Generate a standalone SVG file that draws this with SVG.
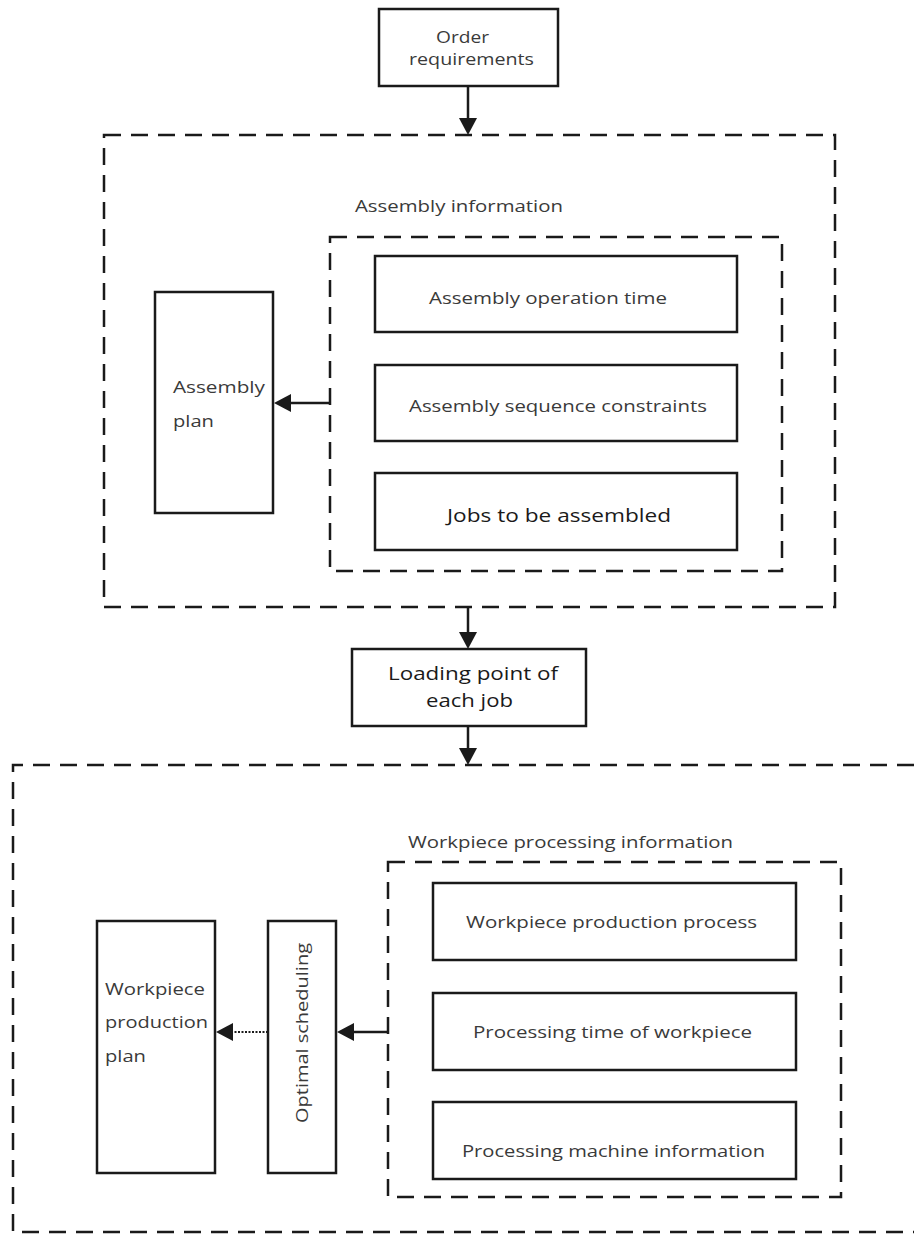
<svg xmlns="http://www.w3.org/2000/svg" width="914" height="1234" viewBox="0 0 914 1234">
<style>
.box{fill:#fff;stroke:#1a1a1a;stroke-width:2.5}
.dash{fill:none;stroke:#1a1a1a;stroke-width:2.5;stroke-dasharray:17 10}
.t{font-family:"Open Sans","Noto Sans",sans-serif;font-size:16.5px;fill:#3a3a3a}
.tb{font-family:"Open Sans","Noto Sans",sans-serif;font-size:19px;fill:#1a1a1a}
.ln{fill:none;stroke:#1a1a1a;stroke-width:2.5}
.ah{fill:#1a1a1a}
</style>
<rect width="914" height="1234" fill="#fff"/>
<g id="assembly-group">
<rect class="dash" x="104" y="135" width="731" height="472"/>
<text class="t" x="355" y="212" textLength="208" lengthAdjust="spacingAndGlyphs">Assembly information</text>
</g>
<g id="assembly-info">
<rect class="dash" x="330" y="237" width="452" height="334"/>
</g>
<g id="workpiece-group">
<path class="dash" d="M914 765 H13 V1232 H914"/>
</g>
<g id="workpiece-info">
<rect class="dash" x="388" y="862" width="453" height="335"/>
<text class="t" x="408" y="848" textLength="325" lengthAdjust="spacingAndGlyphs">Workpiece processing information</text>
</g>
<g id="order">
<rect class="box" x="379" y="9" width="179" height="77"/>
<text class="t" x="436" y="43" textLength="53" lengthAdjust="spacingAndGlyphs">Order</text>
<text class="t" x="409" y="65" textLength="125" lengthAdjust="spacingAndGlyphs">requirements</text>
</g>
<g id="op-time">
<rect class="box" x="375" y="256" width="362" height="76"/>
<text class="t" x="429" y="304" textLength="238" lengthAdjust="spacingAndGlyphs">Assembly operation time</text>
</g>
<g id="seq">
<rect class="box" x="375" y="365" width="362" height="76"/>
<text class="t" x="409" y="412" textLength="298" lengthAdjust="spacingAndGlyphs">Assembly sequence constraints</text>
</g>
<g id="jobs">
<rect class="box" x="375" y="473" width="362" height="77"/>
<text class="tb" x="447" y="522" textLength="224" lengthAdjust="spacingAndGlyphs">Jobs to be assembled</text>
</g>
<g id="assembly-plan">
<rect class="box" x="155" y="292" width="118" height="221"/>
<text class="t" x="173" y="393" textLength="92" lengthAdjust="spacingAndGlyphs">Assembly</text>
<text class="t" x="173" y="427" textLength="41" lengthAdjust="spacingAndGlyphs">plan</text>
</g>
<g id="loading">
<rect class="box" x="352" y="649" width="234" height="77"/>
<text class="tb" x="388" y="680" textLength="170" lengthAdjust="spacingAndGlyphs">Loading point of</text>
<text class="tb" x="426" y="707" textLength="87" lengthAdjust="spacingAndGlyphs">each job</text>
</g>
<g id="wp-process">
<rect class="box" x="433" y="883" width="363" height="77"/>
<text class="t" x="466" y="928" textLength="291" lengthAdjust="spacingAndGlyphs">Workpiece production process</text>
</g>
<g id="wp-time">
<rect class="box" x="433" y="993" width="363" height="77"/>
<text class="t" x="473" y="1038" textLength="279" lengthAdjust="spacingAndGlyphs">Processing time of workpiece</text>
</g>
<g id="machine">
<rect class="box" x="433" y="1102" width="363" height="77"/>
<text class="t" x="462" y="1157" textLength="303" lengthAdjust="spacingAndGlyphs">Processing machine information</text>
</g>
<g id="wp-plan">
<rect class="box" x="97" y="921" width="118" height="252"/>
<text class="t" x="105" y="995" textLength="100" lengthAdjust="spacingAndGlyphs">Workpiece</text>
<text class="t" x="105" y="1028" textLength="103" lengthAdjust="spacingAndGlyphs">production</text>
<text class="t" x="105" y="1062" textLength="41" lengthAdjust="spacingAndGlyphs">plan</text>
</g>
<g id="optimal">
<rect class="box" x="268" y="921" width="68" height="252"/>
<text class="t" transform="translate(308 1033) rotate(-90)" x="-90" y="0" textLength="180" lengthAdjust="spacingAndGlyphs">Optimal scheduling</text>
</g>
<g id="connectors">
<line class="ln" x1="468" y1="86" x2="468" y2="120"/>
<path class="ah" d="M459 118 L477 118 L468 135 Z"/>
<line class="ln" x1="330" y1="403" x2="290" y2="403"/>
<path class="ah" d="M274 403 L291 394 L291 412 Z"/>
<line class="ln" x1="468" y1="607" x2="468" y2="634"/>
<path class="ah" d="M459 632 L477 632 L468 649 Z"/>
<line class="ln" x1="468" y1="726" x2="468" y2="750"/>
<path class="ah" d="M459 748 L477 748 L468 765 Z"/>
<line class="ln" x1="388" y1="1032" x2="353" y2="1032"/>
<path class="ah" d="M337 1032 L354 1023 L354 1041 Z"/>
<line x1="268" y1="1032" x2="232" y2="1032" stroke="#1a1a1a" stroke-width="2" stroke-dasharray="2 1.5"/>
<path class="ah" d="M216 1032 L233 1023 L233 1041 Z"/>
</g>
</svg>
